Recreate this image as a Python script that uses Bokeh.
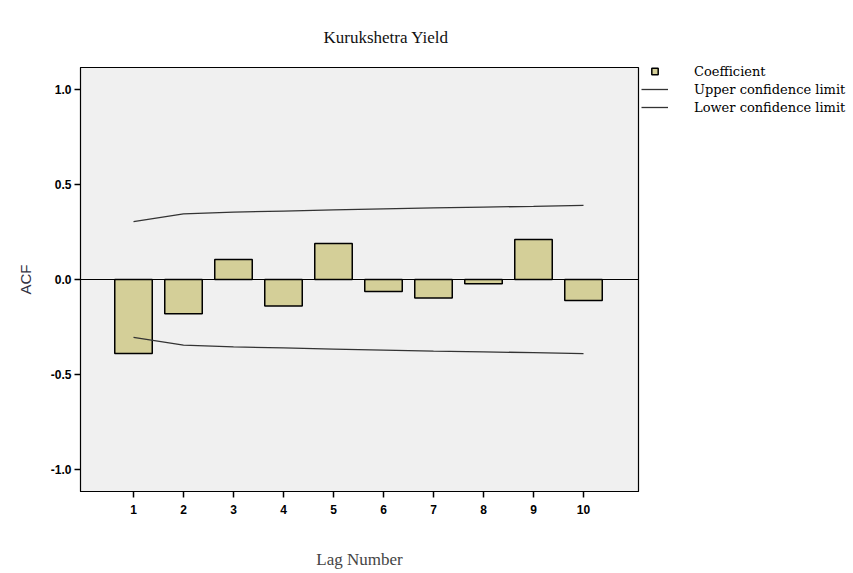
from bokeh.plotting import figure
from bokeh.models import (Range1d, FixedTicker, Span, Legend, LegendItem, ColumnDataSource,
                          NumeralTickFormatter)
from bokeh.embed import file_html
from bokeh.resources import INLINE

lags = [1, 2, 3, 4, 5, 6, 7, 8, 9, 10]
acf = [-0.39, -0.18, 0.105, -0.14, 0.19, -0.063, -0.098, -0.023, 0.21, -0.11]
upper = [0.305, 0.345, 0.355, 0.36, 0.366, 0.372, 0.377, 0.381, 0.385, 0.39]
lower = [-0.305, -0.345, -0.355, -0.36, -0.366, -0.372, -0.377, -0.381, -0.385, -0.39]
y_ticks = [-1.0, -0.5, 0.0, 0.5, 1.0]

BAR = "#d4cf98"

p = figure(frame_width=558, frame_height=424, output_backend="svg", toolbar_location=None,
           x_range=Range1d(-0.06, 11.1), y_range=Range1d(-1.116, 1.116),
           min_border_left=80, min_border_right=215, min_border_top=67, min_border_bottom=82)
p.background_fill_color = "#f0f0f0"
p.border_fill_color = "white"
p.outline_line_color = "black"
p.outline_line_width = 1.2
p.grid.visible = False

p.title.text = "Kurukshetra Yield"
p.title.text_font = "Liberation Serif"
p.title.text_font_size = "17px"
p.title.text_font_style = "normal"
p.title.text_color = "#111111"
p.title.align = "left"
p.title.offset = 243
p.title.vertical_align = "top"
p.title.standoff = 38

src = ColumnDataSource(dict(lag=lags, acf=acf, upper=upper, lower=lower))
bars = p.vbar(x="lag", top="acf", bottom=0, width=0.75, source=src,
              fill_color=BAR, line_color="black", line_width=1.5)
p.add_layout(Span(location=0, dimension="width", line_color="black", line_width=1.2))
lu = p.line(x="lag", y="upper", source=src, line_color="#333333", line_width=1.3)
ll = p.line(x="lag", y="lower", source=src, line_color="#333333", line_width=1.3)
# zero-size markers: only the legend swatch is visible
sq = p.scatter(x="lag", y="acf", source=src, marker="square", size=0,
               fill_color=BAR, line_color="black", line_width=1.5)

legend = Legend(items=[LegendItem(label="Coefficient", renderers=[sq]),
                       LegendItem(label="Upper confidence limit", renderers=[lu]),
                       LegendItem(label="Lower confidence limit", renderers=[ll])],
                location=(3, 376), orientation="vertical",
                glyph_width=27, glyph_height=16, label_height=16, spacing=2,
                label_standoff=26, padding=0, margin=0,
                border_line_color=None, background_fill_alpha=0,
                label_text_font="DejaVu Serif", label_text_font_size="13px",
                label_text_color="black")
p.add_layout(legend, "right")

for ax in (p.xaxis, p.yaxis):
    ax.major_tick_in = 0
    ax.major_tick_out = 6
    ax.minor_tick_line_color = None
    ax.major_tick_line_color = "black"
    ax.major_tick_line_width = 1.5
    ax.axis_line_color = "black"
    ax.major_label_text_font = "Liberation Sans"
    ax.major_label_text_font_style = "bold"
    ax.major_label_text_font_size = "12px"
    ax.major_label_text_color = "black"
    ax.axis_label_text_font_style = "normal"

p.xaxis.ticker = FixedTicker(ticks=lags)
p.xaxis.axis_label = "Lag Number"
p.xaxis.axis_label_text_font = "Liberation Serif"
p.xaxis.axis_label_text_font_size = "17px"
p.xaxis.axis_label_standoff = 33
p.xaxis.major_label_standoff = 7

p.yaxis.ticker = FixedTicker(ticks=y_ticks)
p.yaxis.formatter = NumeralTickFormatter(format="0.0")
p.yaxis.axis_label = "ACF"
p.yaxis.axis_label_text_font = "Liberation Sans"
p.yaxis.axis_label_text_font_size = "15px"
p.yaxis.axis_label_text_color = "#333344"
p.yaxis.axis_label_standoff = 14
p.yaxis.major_label_standoff = 3

open("out.html", "w").write(file_html(p, INLINE))
